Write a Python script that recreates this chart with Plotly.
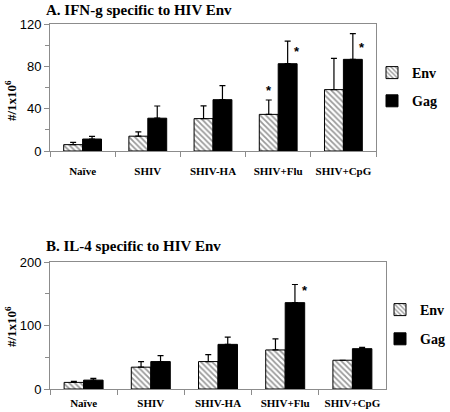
import plotly.graph_objects as go

categories = ["Naïve", "SHIV", "SHIV-HA", "SHIV+Flu", "SHIV+CpG"]

# Panel A: IFN-g
a_env = [6, 14, 30.6, 34.6, 58]
a_env_err = [2.2, 4, 12, 13.6, 29.6]
a_gag = [11.3, 31, 48.5, 82.5, 86.6]
a_gag_err = [2.6, 11.5, 13.2, 21.4, 24.3]
a_env_star = [False, False, False, True, False]
a_gag_star = [False, False, False, True, True]

# Panel B: IL-4
b_env = [10.4, 34.4, 43.2, 61.5, 45.3]
b_env_err = [1.6, 8.8, 10.8, 17.5, 0]
b_gag = [14, 43.2, 70.3, 136, 63.5]
b_gag_err = [2.7, 9.4, 11.5, 28.6, 2]
b_env_star = [False, False, False, False, False]
b_gag_star = [False, False, False, True, False]

title_a = "A. IFN-g specific to HIV Env"
title_b = "B. IL-4 specific to HIV Env"
y_title = "#/1x10<sup>6</sup>"

W, H = 450, 412
SERIF = "Liberation Serif, Times New Roman, serif"
SANS = "Liberation Sans, Arial, sans-serif"
AXC = "#8c8c8c"

env_pattern = dict(shape="\\", fgcolor="#333333", bgcolor="white", size=4, solidity=0.45)


def bar(name, x, y, err, xa, ya, legend, env):
    return go.Bar(
        name=name, x=x, y=y, xaxis=xa, yaxis=ya, legend=legend,
        legendgroup=name + legend,
        marker=dict(
            color="white" if env else "black",
            pattern=env_pattern if env else None,
            line=dict(color="black", width=1),
        ),
        error_y=dict(type="data", array=err, arrayminus=[0] * len(err),
                     symmetric=False, color="black", thickness=1.2, width=3),
    )


fig = go.Figure()
fig.add_trace(bar("Env", categories, a_env, a_env_err, "x", "y", "legend", True))
fig.add_trace(bar("Gag", categories, a_gag, a_gag_err, "x", "y", "legend", False))
fig.add_trace(bar("Env", categories, b_env, b_env_err, "x2", "y2", "legend2", True))
fig.add_trace(bar("Gag", categories, b_gag, b_gag_err, "x2", "y2", "legend2", False))

px = lambda v: v / W
py = lambda v: 1 - v / H

xa_common = dict(
    type="category", showline=True, linecolor=AXC, linewidth=1, mirror=True,
    ticks="outside", tickson="boundaries", ticklen=5, tickcolor=AXC, tickangle=0,
    tickfont=dict(family=SERIF, size=11, color="black", weight="bold"),
    showgrid=False, zeroline=False, automargin=False,
)
ya_common = dict(
    showline=True, linecolor=AXC, linewidth=1, mirror=True, automargin=False,
    ticks="outside", ticklen=5, tickcolor=AXC, showgrid=False, zeroline=False,
    tickfont=dict(family=SANS, size=13, color="black"),
)

fig.update_layout(
    width=W, height=H, margin=dict(l=0, r=0, t=0, b=0, autoexpand=False),
    paper_bgcolor="white", plot_bgcolor="white",
    barmode="group", bargap=0.42, bargroupgap=0,
    xaxis=dict(domain=[px(50), px(376)], anchor="y", ticklabelstandoff=10, **xa_common),
    yaxis=dict(domain=[py(151), py(24)], anchor="x", range=[0, 120], dtick=40,
               minor=dict(dtick=20, ticks="outside", ticklen=4, tickcolor=AXC), **ya_common),
    xaxis2=dict(domain=[px(50), px(386)], anchor="y2", ticklabelstandoff=4, **xa_common),
    yaxis2=dict(domain=[py(389), py(262)], anchor="x2", range=[0, 200], dtick=100,
                minor=dict(dtick=50, ticks="outside", ticklen=4, tickcolor=AXC), **ya_common),
    legend=dict(x=px(442), y=py(57), xanchor="right", yanchor="top",
                font=dict(family=SERIF, size=14, color="black", weight="bold"),
                tracegroupgap=7, bgcolor="rgba(0,0,0,0)"),
    legend2=dict(x=px(450), y=py(294), xanchor="right", yanchor="top",
                 font=dict(family=SERIF, size=14, color="black", weight="bold"),
                 tracegroupgap=8, bgcolor="rgba(0,0,0,0)"),
    showlegend=True,
)

annotations = [
    dict(text=title_a, x=px(44), y=py(10), xref="paper", yref="paper",
         xanchor="left", yanchor="middle", showarrow=False,
         font=dict(family=SERIF, size=15, color="black", weight="bold")),
    dict(text=title_b, x=px(44), y=py(246), xref="paper", yref="paper",
         xanchor="left", yanchor="middle", showarrow=False,
         font=dict(family=SERIF, size=15, color="black", weight="bold")),
    dict(text=y_title, x=px(11), y=py(101), xref="paper", yref="paper",
         textangle=-90, xanchor="center", yanchor="middle", showarrow=False,
         font=dict(family=SERIF, size=13, color="black", weight="bold")),
    dict(text=y_title, x=px(11), y=py(327), xref="paper", yref="paper",
         textangle=-90, xanchor="center", yanchor="middle", showarrow=False,
         font=dict(family=SERIF, size=13, color="black", weight="bold")),
]

star_font = dict(family=SANS, size=13, color="black", weight="bold")


def add_stars(xref, yref, env, env_err, env_star, gag, gag_star, bw):
    for i, c in enumerate(categories):
        if env_star[i]:
            annotations.append(dict(text="*", x=c, y=env[i] + env_err[i], xref=xref, yref=yref,
                                    xshift=-bw / 2, yshift=9, showarrow=False,
                                    yanchor="middle", font=star_font))
        if gag_star[i]:
            annotations.append(dict(text="*", x=c, y=gag[i], xref=xref, yref=yref,
                                    xshift=bw, yshift=12, showarrow=False,
                                    yanchor="middle", font=star_font))


bw_a = (376 - 50) / 5 * (1 - 0.42) / 2
bw_b = (386 - 50) / 5 * (1 - 0.42) / 2
add_stars("x", "y", a_env, a_env_err, a_env_star, a_gag, a_gag_star, bw_a)
add_stars("x2", "y2", b_env, b_env_err, b_env_star, b_gag, b_gag_star, bw_b)

fig.update_layout(annotations=annotations)
fig.write_html("out.html", config={"displayModeBar": False},
               post_script="document.body.style.margin='0';")
